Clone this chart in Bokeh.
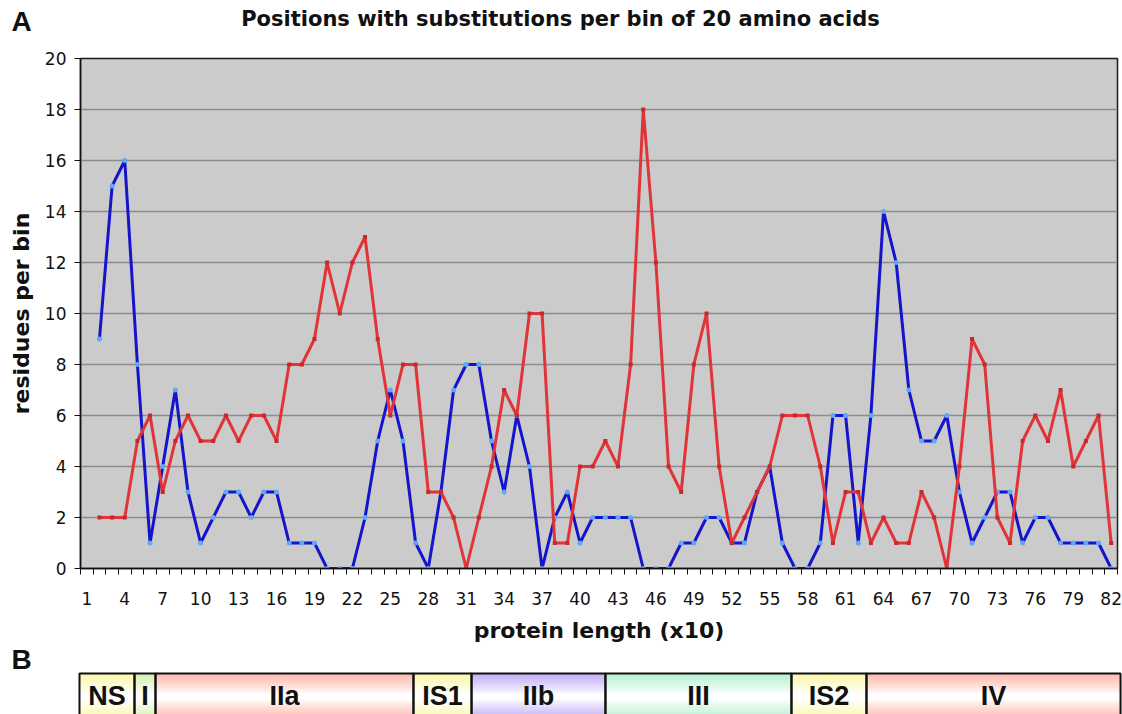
from bokeh.plotting import figure
from bokeh.models import Range1d, FixedTicker, Label
from bokeh.embed import file_html
from bokeh.resources import INLINE
from bokeh.core.properties import value

# ---------------- data ----------------
bins = list(range(2, 83))
blue = [9, 15, 16, 8, 1, 4, 7, 3, 1, 2, 3, 3, 2, 3, 3, 1, 1, 1, 0, 0,
        0, 2, 5, 7, 5, 1, 0, 3, 7, 8, 8, 5, 3, 6, 4, 0, 2, 3, 1, 2,
        2, 2, 2, 0, 0, 0, 1, 1, 2, 2, 1, 1, 3, 4, 1, 0, 0, 1, 6, 6,
        1, 6, 14, 12, 7, 5, 5, 6, 3, 1, 2, 3, 3, 1, 2, 2, 1, 1, 1, 1, 0]
red = [2, 2, 2, 5, 6, 3, 5, 6, 5, 5, 6, 5, 6, 6, 5, 8, 8, 9, 12, 10,
       12, 13, 9, 6, 8, 8, 3, 3, 2, 0, 2, 4, 7, 6, 10, 10, 1, 1, 4, 4,
       5, 4, 8, 18, 12, 4, 3, 8, 10, 4, 1, 2, 3, 4, 6, 6, 6, 4, 1, 3,
       3, 1, 2, 1, 1, 3, 2, 0, 4, 9, 8, 2, 1, 5, 6, 5, 7, 4, 5, 6, 1]
n_categories = 82
x_tick_labels = list(range(1, 83, 3))
y_ticks = list(range(0, 21, 2))
title_text = "Positions with substitutions per bin of 20 amino acids"
x_label = "protein length (x10)"
y_label = "residues per bin"

domains = ["NS", "I", "IIa", "IS1", "IIb", "III", "IS2", "IV"]
domain_edges = [0.42, 4.77, 6.43, 26.83, 31.42, 42.01, 56.72, 62.65, 82.74]
domain_colors = ["#fbf59a", "#cdeea0", "#ffaa9a", "#fbf59a",
                 "#b49af5", "#a6ecc6", "#fbf59a", "#ffaa9a"]

# ---------------- geometry ----------------
W = 1122
LB = 80          # left border of chart frame
FW = 1037        # frame width
FH = 511         # frame height
HH = 48          # header height
TOPA = 10
HA = 597
HB = 69

# ---------------- header (panel label A + title) ----------------
pH = figure(width=W, height=HH, x_range=Range1d(0, W), y_range=Range1d(0, HH),
            output_backend="svg", toolbar_location=None,
            min_border_left=0, min_border_right=0,
            min_border_top=0, min_border_bottom=0)
pH.axis.visible = False
pH.grid.visible = False
pH.outline_line_color = None
pH.add_layout(Label(x=560, y=HH - 18, x_units="screen", y_units="screen",
                    text=title_text, text_align="center",
                    text_baseline="middle", text_font="DejaVu Sans",
                    text_font_style="bold", text_font_size="21px",
                    text_color="#111111"))
pH.add_layout(Label(x=11, y=HH - 21, x_units="screen", y_units="screen",
                    text="A", text_align="left", text_baseline="middle",
                    text_font="Liberation Sans", text_font_style="bold",
                    text_font_size="28px", text_color="#111111"))

# ---------------- panel A ----------------
pA = figure(width=W, height=HA,
            x_range=Range1d(0.5, n_categories + 0.5), y_range=Range1d(0, 20),
            output_backend="svg", toolbar_location=None,
            min_border_left=LB, min_border_right=W - LB - FW,
            min_border_top=TOPA, min_border_bottom=HA - TOPA - FH)
pA.background_fill_color = "#cbcbcb"
pA.border_fill_color = "white"
pA.outline_line_color = "#1a1a1a"
pA.outline_line_width = 1.5

pA.xgrid.visible = False
pA.ygrid.ticker = FixedTicker(ticks=y_ticks)
pA.ygrid.grid_line_color = "#8c8c8c"
pA.ygrid.grid_line_width = 1.5

yax = pA.yaxis[0]
yax.ticker = FixedTicker(ticks=y_ticks)
yax.major_tick_in = 0
yax.major_tick_out = 6
yax.minor_tick_line_color = None
yax.axis_line_color = "#111111"
yax.axis_line_width = 1.5
yax.major_tick_line_color = "#111111"
yax.major_label_text_font = "DejaVu Sans"
yax.major_label_text_font_size = "17px"
yax.major_label_text_color = "#111111"
yax.major_label_standoff = 8
yax.axis_label = y_label
yax.axis_label_text_font = "DejaVu Sans"
yax.axis_label_text_font_style = "bold"
yax.axis_label_text_font_size = "22px"
yax.axis_label_text_color = "#111111"
yax.axis_label_standoff = 8

minor = [c - 0.5 for c in range(1, n_categories + 2)]
xax = pA.xaxis[0]
xax.ticker = FixedTicker(ticks=x_tick_labels, minor_ticks=minor)
xax.major_tick_line_color = None
xax.major_tick_in = 0
xax.major_tick_out = 0
xax.minor_tick_in = 0
xax.minor_tick_out = 6
xax.minor_tick_line_color = "#111111"
xax.axis_line_color = "#111111"
xax.axis_line_width = 1.5
xax.major_label_text_font = "DejaVu Sans"
xax.major_label_text_font_size = "17px"
xax.major_label_text_color = "#111111"
xax.major_label_standoff = 17
xax.axis_label = x_label
xax.axis_label_text_font = "DejaVu Sans"
xax.axis_label_text_font_style = "bold"
xax.axis_label_text_font_size = "22px"
xax.axis_label_text_color = "#111111"
xax.axis_label_standoff = 10

pA.line(bins, blue, line_color="#1414cc", line_width=3)
pA.scatter(bins, blue, size=5, marker="circle", fill_color="#5fa8f5",
           line_color=None)
pA.line(bins, red, line_color="#e03438", line_width=3)
pA.scatter(bins, red, size=4, marker="square", fill_color="#c8282c",
           line_color=None)

# ---------------- panel B ----------------
scale = FW / n_categories
pB = figure(width=W, height=HB,
            x_range=Range1d(0.5 - LB / scale, 0.5 + (W - LB) / scale),
            y_range=Range1d(0, HB),
            output_backend="svg", toolbar_location=None,
            min_border_left=0, min_border_right=0,
            min_border_top=0, min_border_bottom=0)
pB.axis.visible = False
pB.grid.visible = False
pB.outline_line_color = None
pB.background_fill_color = "white"

box_top = 41
box_bot = -5
centre = (box_top + box_bot) / 2
half = (box_top - box_bot) / 2


def blend(hexcol, f):
    r = int(hexcol[1:3], 16)
    g = int(hexcol[3:5], 16)
    b = int(hexcol[5:7], 16)
    r = round(255 + (r - 255) * f)
    g = round(255 + (g - 255) * f)
    b = round(255 + (b - 255) * f)
    return "#%02x%02x%02x" % (r, g, b)


L, R, Bt, T, C = [], [], [], [], []
for i, col in enumerate(domain_colors):
    yb = box_bot
    while yb < box_top:
        yt = yb + 1
        d = abs((yb + yt) / 2 - centre) / half
        f = max(0.0, min(1.0, (d - 0.12) / 0.8)) ** 0.8
        L.append(domain_edges[i])
        R.append(domain_edges[i + 1])
        Bt.append(yb)
        T.append(yt)
        C.append(blend(col, f))
        yb = yt
pB.quad(left=L, right=R, bottom=Bt, top=T, fill_color=C, line_color=None)
pB.quad(left=domain_edges[:-1], right=domain_edges[1:],
        bottom=[box_bot] * len(domains), top=[box_top] * len(domains),
        fill_color=None, line_color="#111111", line_width=2)
mids = [(domain_edges[i] + domain_edges[i + 1]) / 2 for i in range(len(domains))]
pB.text(x=mids, y=[centre + 1] * len(domains), text=domains,
        text_align="center", text_baseline="middle",
        text_font=value("Liberation Sans"),
        text_font_style="bold",
        text_font_size="27px", text_color="#111111")
pB.add_layout(Label(x=11, y=HB - 14, x_units="screen", y_units="screen",
                    text="B", text_align="left", text_baseline="middle",
                    text_font="Liberation Sans", text_font_style="bold",
                    text_font_size="28px", text_color="#111111"))

open("out.html", "w").write(file_html([pH, pA, pB], INLINE))
